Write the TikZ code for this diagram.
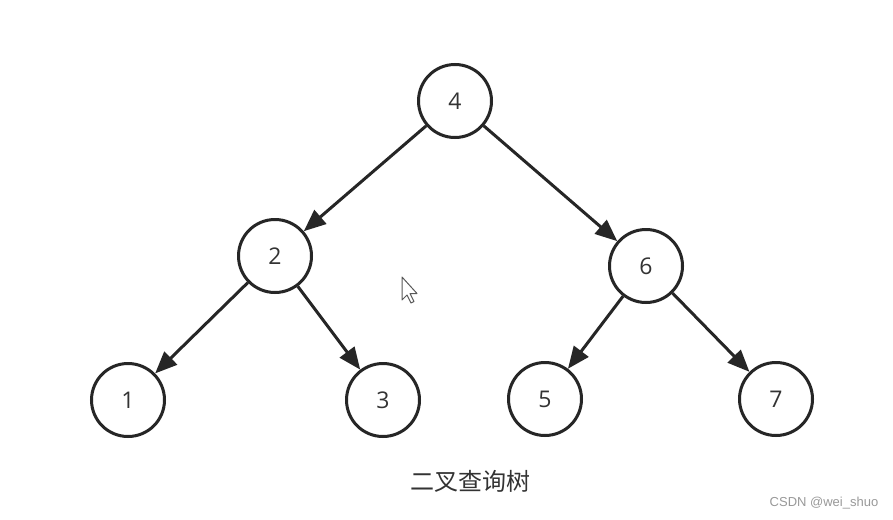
\documentclass[tikz,border=0pt]{standalone}
\usepackage{fontspec}
\setmainfont{Open Sans}
\newfontfamily\cjkfont{Noto Sans CJK SC}
\newfontfamily\wmfont{Liberation Sans}
\usetikzlibrary{arrows.meta}
\definecolor{ink}{HTML}{262626}
\definecolor{captionc}{HTML}{333333}
\definecolor{wmc}{HTML}{999999}
\begin{document}
\begin{tikzpicture}[x=1pt,y=-1pt,
  treenode/.style={circle,draw=ink,line width=3pt,minimum size=73pt,inner sep=0pt,
    font=\fontsize{23}{23}\selectfont,text=captionc},
  edge/.style={draw=ink,line width=3pt,-{Triangle[length=22pt,width=18pt]}}]
\useasboundingbox[fill=white] (0,0) rectangle (893,519);
\node[treenode] (n4) at (455,101) {4};
\node[treenode] (n2) at (275,256) {2};
\node[treenode] (n6) at (646,266) {6};
\node[treenode] (n1) at (128,400) {1};
\node[treenode] (n3) at (383,400) {3};
\node[treenode] (n5) at (545,399) {5};
\node[treenode] (n7) at (776,399) {7};
\draw[edge] (n4) -- (n2);
\draw[edge] (n4) -- (n6);
\draw[edge] (n2) -- (n1);
\draw[edge] (n2) -- (n3);
\draw[edge] (n6) -- (n5);
\draw[edge] (n6) -- (n7);
\node[font=\cjkfont\fontsize{24}{24}\selectfont,text=captionc] (cap) at (470,481) {二叉查询树};
\node[font=\wmfont\fontsize{13}{13}\selectfont,text=wmc] (wm) at (824,503) {CSDN @wei\_shuo};
% mouse cursor
\draw[draw=black!65,fill=white,line width=1pt,line join=round]
  (402,277) -- (402,300) -- (407,295) -- (411,303) -- (414,301.5) -- (410,293.5) -- (417,293.5) -- cycle;
\end{tikzpicture}
\end{document}
